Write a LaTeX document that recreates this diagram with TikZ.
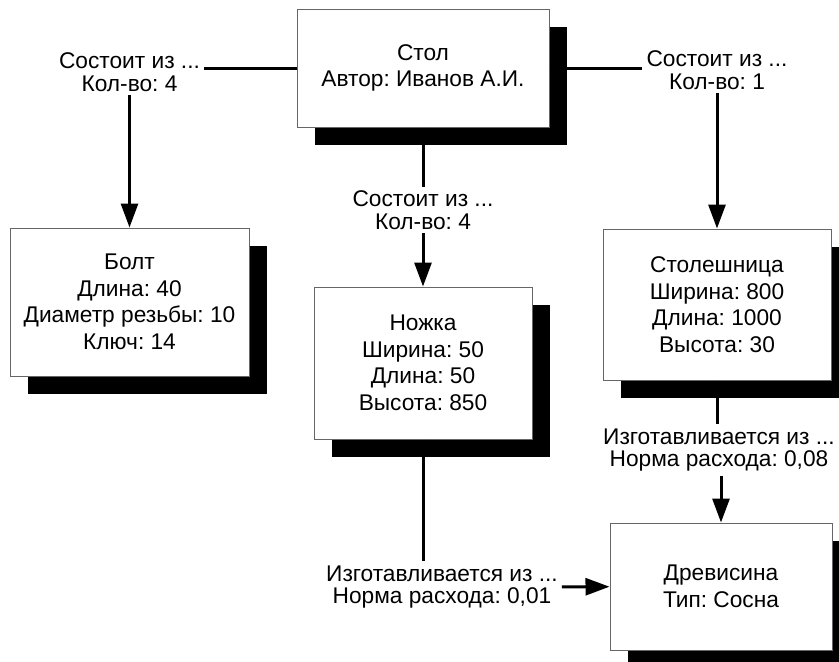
\documentclass[tikz,border=0pt]{standalone}
\usepackage{fontspec}
\setmainfont{Liberation Sans}
\frenchspacing
\usetikzlibrary{arrows.meta, positioning, shadows}

\begin{document}
\begin{tikzpicture}[
  x=1pt, y=-1pt,
  part/.style={draw=black!60, line width=1pt, fill=white, align=center, inner sep=0pt,
    font=\fontsize{22.7}{26.5}\selectfont,
    drop shadow={shadow xshift=18pt, shadow yshift=-18pt, fill=black, opacity=1}},
  rel/.style={align=center, inner sep=4pt, font=\fontsize{22.7}{22.5}\selectfont},
  link/.style={line width=3pt},
  arr/.style={line width=3pt, -{Triangle[length=24pt, width=17pt]}}
]
  \useasboundingbox (0,0) rectangle (839,662);
  \node[part, minimum width=252pt, minimum height=118pt] (stol) at (423, 68) {Стол\\Автор: Иванов А.И.};
  \node[part, minimum width=239pt, minimum height=148pt] (bolt) at (129.5, 302) {Болт\\Длина: 40\\Диаметр резьбы: 10\\Ключ: 14};
  \node[part, minimum width=218pt, minimum height=152pt] (nozhka) at (423, 363) {Ножка\\Ширина: 50\\Длина: 50\\Высота: 850};
  \node[part, minimum width=228pt, minimum height=151pt] (stoleshn) at (717, 304.5) {Столешница\\Ширина: 800\\Длина: 1000\\Высота: 30};
  \node[part, minimum width=222pt, minimum height=127pt] (drev) at (721, 586.5) {Древисина\\Тип: Сосна};

  \node[rel] (sostBolt) at (129.5, 72) {Состоит из ...\\Кол-во: 4};
  \node[rel] (sostNozh) at (423, 210) {Состоит из ...\\Кол-во: 4};
  \node[rel] (sostStol) at (717, 70) {Состоит из ...\\Кол-во: 1};
  \node[rel] (izgNozh) at (442, 587) {Изготавливается из ...\\Норма расхода: 0,01};
  \node[rel] (izgStol) at (719, 450) {Изготавливается из ...\\Норма расхода: 0,08};

  \draw[link] (stol.west) -- (stol.west -| sostBolt.east);
  \draw[arr] (sostBolt) -- (bolt);
  \draw[link] (stol) -- (sostNozh);
  \draw[arr] (sostNozh) -- (nozhka);
  \draw[link] (stol.east) -- (stol.east -| sostStol.west);
  \draw[arr] (sostStol) -- (stoleshn);
  \draw[link] (stoleshn.south) -- (stoleshn.south |- izgStol.north);
  \draw[arr] (izgStol.south -| drev.north) -- (drev.north);
  \draw[link] (nozhka.south) -- (nozhka.south |- izgNozh.north);
  \draw[arr] (izgNozh) -- (drev);
\end{tikzpicture}
\end{document}
